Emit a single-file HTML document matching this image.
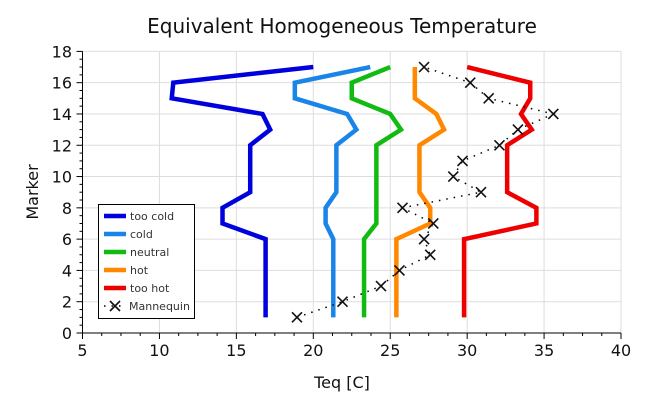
<!DOCTYPE html>
<html><head><meta charset="utf-8"><style>
html,body{margin:0;padding:0;background:#fff;}
svg{display:block;font-family:"DejaVu Sans","Liberation Sans",sans-serif;}
</style></head><body>
<svg id="s" width="666" height="402" viewBox="0 0 666 402">
<text x="342" y="33" text-anchor="middle" font-size="20" fill="#111">Equivalent Homogeneous Temperature</text>
<text x="342" y="388" text-anchor="middle" font-size="16" fill="#111">Teq [C]</text>
<text transform="translate(38,192) rotate(-90)" text-anchor="middle" font-size="16" fill="#111">Marker</text>
<g id="g"></g>
</svg>
<script>
const X=v=>82.5+(v-5)*15.386, Y=v=>333-v*15.645;
const g=document.getElementById('g');let h='';
for(let v=5;v<=40;v+=5){h+=`<line x1="${X(v)}" y1="${Y(18)}" x2="${X(v)}" y2="${Y(0)}" stroke="#ddd" stroke-width="1"/>`;
h+=`<text x="${X(v)}" y="356" text-anchor="middle" font-size="16" fill="#111">${v}</text>`;}
for(let v=0;v<=18;v+=2){h+=`<line x1="${X(5)}" y1="${Y(v)}" x2="${X(40)}" y2="${Y(v)}" stroke="#ddd" stroke-width="1"/>`;
h+=`<text x="72" y="${Y(v)+6}" text-anchor="end" font-size="16" fill="#111">${v}</text>`;}
h+=`<line x1="${X(5)}" y1="${Y(18)}" x2="${X(5)}" y2="${Y(0)}" stroke="#000"/><line x1="${X(5)}" y1="${Y(0)}" x2="${X(40)}" y2="${Y(0)}" stroke="#000"/>`;
for(let v=5;v<=40;v+=1.25){let L=(v%5==0)?6:3;h+=`<line x1="${X(v)}" y1="${Y(0)}" x2="${X(v)}" y2="${Y(0)+L}" stroke="#000"/>`;}
for(let v=0;v<=18;v+=0.5){let L=(v%2==0)?6:3;h+=`<line x1="${X(5)-L}" y1="${Y(v)}" x2="${X(5)}" y2="${Y(v)}" stroke="#000"/>`;}
const S=[
['#0000dd',[20,10.9,10.8,16.7,17.2,15.9,15.9,15.9,15.9,14.1,14.1,16.9,16.9,16.9,16.9,16.9,16.9]],
['#1a85e8',[23.7,18.8,18.8,22.2,22.8,21.5,21.5,21.5,21.5,20.8,20.8,21.3,21.3,21.3,21.3,21.3,21.3]],
['#11bb11',[25.0,22.5,22.5,25.0,25.7,24.1,24.1,24.1,24.1,24.1,24.1,23.3,23.3,23.3,23.3,23.3,23.3]],
['#ff8800',[26.6,26.6,26.6,28.0,28.5,26.9,26.9,26.9,26.9,27.6,27.6,25.4,25.4,25.4,25.4,25.4,25.4]],
['#ee0000',[30.0,34.1,34.1,33.5,34.2,32.6,32.6,32.6,32.6,34.5,34.5,29.8,29.8,29.8,29.8,29.8,29.8]]];
S.forEach(([c,d])=>{h+=`<polyline fill="none" stroke="${c}" stroke-width="4.5" stroke-linejoin="miter" points="${d.map((v,i)=>X(v)+','+Y(17-i)).join(' ')}"/>`;});
const M=[18.94,21.9,24.4,25.6,27.6,27.2,27.8,25.8,30.9,29.1,29.7,32.1,33.3,35.6,31.4,30.2,27.2];
h+=`<polyline fill="none" stroke="#000" stroke-width="1.5" stroke-dasharray="1.5 6" points="${M.map((v,i)=>X(v)+','+Y(i+1)).join(' ')}"/>`;
const x=(cx,cy)=>`<path d="M${cx-5},${cy-5}L${cx+5},${cy+5}M${cx-5},${cy+5}L${cx+5},${cy-5}" stroke="#111" stroke-width="1.6"/>`;
M.forEach((v,i)=>h+=x(X(v),Y(i+1)));
h+=`<rect x="98.5" y="204.5" width="96" height="114" fill="#fff" stroke="#000"/>`;
const names=['too cold','cold','neutral','hot','too hot'];
names.forEach((n,i)=>{let y=216+i*18;h+=`<line x1="104" y1="${y}" x2="126" y2="${y}" stroke="${S[i][0]}" stroke-width="4.5"/><text x="130" y="${y+4}" font-size="11" fill="#333">${n}</text>`;});
let y=306;h+=`<line x1="104" y1="${y}" x2="126" y2="${y}" stroke="#000" stroke-width="1.5" stroke-dasharray="1.5 6"/>`+x(115,y)+`<text x="129" y="${y+4}" font-size="11" fill="#333">Mannequin</text>`;
g.innerHTML=h;
</script>
</body></html>
